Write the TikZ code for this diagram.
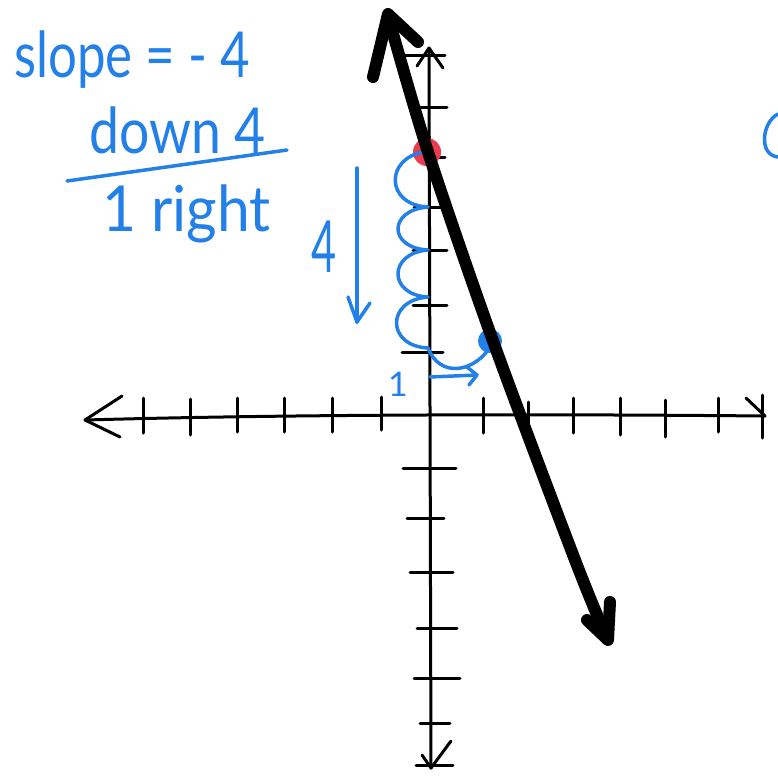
\documentclass[tikz,border=0pt]{standalone}
\usepackage{fontspec}
\setmainfont{Lato}
\usetikzlibrary{arrows.meta}
\definecolor{penblue}{RGB}{35,128,232}
\definecolor{penred}{RGB}{236,58,78}
\begin{document}
\begin{tikzpicture}[x=1pt,y=-1pt,
  axis/.style={line width=3pt,line cap=round,line join=round},
  tickmark/.style={line width=3pt,line cap=round},
  heavy/.style={line width=12pt,line cap=round,line join=round},
  bluepen/.style={penblue,line width=3.5pt,line cap=round,line join=round},
  hand/.style={text=penblue,inner sep=0pt,anchor=base west,yscale=1.22,font=\fontsize{52}{52}\selectfont},
]
\useasboundingbox (0,0) rectangle (777,782);

% x axis
\coordinate (xl) at (85,420);
\coordinate (xr) at (765,416);
\draw[axis] (xl) .. controls (300,414) and (550,414) .. (xr);
\draw[axis] (122,396) -- (xl) -- (120,437);
\draw[axis] (746,398) -- (xr);
\foreach \x/\a/\b in {143/398/433,190/399/435,237/398/432,284/398/432,332/398/432,381/397/430,483/398/433,528/402/438,573/398/433,620/398/435,665/400/437,718/398/432,762/395/438}
  \draw[tickmark] (\x,\a) -- (\x,\b);

% y axis
\coordinate (yt) at (429,48);
\coordinate (yb) at (431,768);
\draw[axis] (yt) -- (yb);
\draw[axis] (417,66) -- (yt) -- (443,68);
\draw[axis] (422,755) -- (yb) -- (451,741);
\foreach \y/\a/\b in {55/403/445,107/420/447,157/416/445,207/414/443,250/413/447,305/413/447,352/402/443,468/403/456,518/407/444,572/410/453,628/417/457,678/414/460,723/420/450,765/416/453}
  \draw[tickmark] (\a,\y) -- (\b,\y);

% blue text
\node[hand,xscale=0.98] (slope) at (14,77) {slope = - 4};
\node[hand,xscale=1.03] (down) at (89,153) {down 4};
\node[hand,xscale=1.13] (right) at (102,231) {1 right};
\coordinate (fl) at (67,181);
\coordinate (fr) at (287,150);
\draw[bluepen] (fl) -- (fr);

% points
\fill[penred] (427,152) circle (14);
\fill[penblue] (490,341) circle (12);

% rise loops
\coordinate (p0) at (424,152);
\coordinate (p1) at (428,207);
\coordinate (p2) at (428,250);
\coordinate (p3) at (428,297);
\coordinate (p4) at (428,348);
\coordinate (pb) at (488,350);
\draw[bluepen] (p0) .. controls (385,158) and (385,205) .. (p1)
  .. controls (388,210) and (388,248) .. (p2)
  .. controls (388,253) and (388,295) .. (p3)
  .. controls (386,300) and (386,346) .. (p4)
  .. controls (440,378) and (472,372) .. (pb);

% down arrow and label 4
\coordinate (da) at (357,168);
\coordinate (db) at (357,322);
\draw[bluepen] (da) -- (db);
\draw[bluepen] (348,297) -- (db) -- (370,303);
\node[text=penblue,inner sep=0pt,anchor=base west,font=\fontsize{72}{72}\selectfont,xscale=0.6] (four) at (311,272) {4};

% right arrow and label 1
\coordinate (ra) at (430,377);
\coordinate (rb) at (477,375);
\draw[bluepen] (ra) -- (rb);
\draw[bluepen] (467,367) -- (rb) -- (469,385);
\node[text=penblue,inner sep=0pt,anchor=base west,font=\fontsize{34}{34}\selectfont] (one) at (388,396) {1};

% fragment at right edge
\coordinate (ca) at (778,114);
\coordinate (cb) at (778,157);
\draw[bluepen] (ca) .. controls (762,122) and (758,155) .. (cb);

% heavy line
\coordinate (top) at (388,14);
\coordinate (bot) at (608,640);
\draw[heavy] plot[smooth] coordinates {(388,16) (428,152) (493,341) (575,560) (606,636)};
\draw[heavy] (373,77) -- (top) -- (418,42);
\draw[heavy] (587,620) -- (bot) -- (610,602);
\end{tikzpicture}
\end{document}
